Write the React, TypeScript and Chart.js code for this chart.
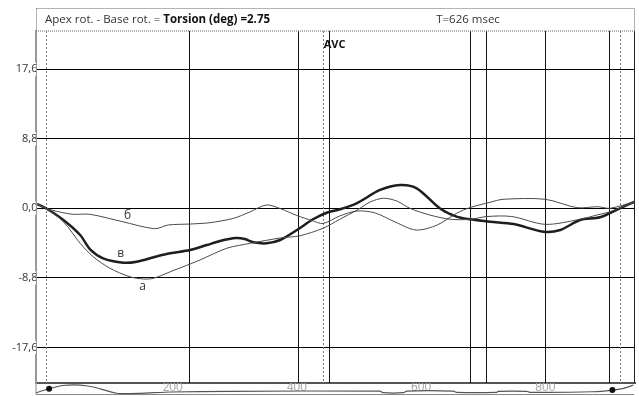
import React, { useEffect, useRef } from "react";
import { Chart, registerables } from "chart.js";

Chart.register(...registerables);

// ---- axes ----
const X_MIN = -20.1;
const X_MAX = 944.4;
const Y_MIN = -22.11;
const Y_MAX = 22.44;
const Y_TICKS = [-17.6, -8.8, 0, 8.8, 17.6];
const X_TICKS = [200, 400, 600, 800];
const STRIP_BOTTOM = -23.44;

// ---- curves (time ms, torsion deg) ----
const curveA_T = [-18, -4, 24, 51, 72, 99, 131, 153, 169, 196, 228, 244, 287, 325, 373, 405, 442, 469, 497, 518, 539, 561, 582, 614, 647, 679, 706, 746, 800, 856, 883, 904, 944];
const curveA_V = [0.54, 0, -1.7, -4.43, -6.13, -7.59, -8.66, -8.95, -8.86, -8.03, -7.05, -6.54, -5.06, -4.43, -3.76, -3.47, -2.53, -1.39, -0.22, 0.8, 1.27, 0.92, 0, -0.85, -1.39, -1.39, -1.04, -1.04, -2.03, -1.39, -0.85, -0.43, 0.84];

const curveB_T = [-18, -4, 18, 40, 67, 118, 171, 193, 228, 260, 298, 324, 351, 373, 400, 424, 442, 469, 497, 526, 558, 592, 626, 658, 679, 711, 732, 800, 851, 885, 904, 944];
const curveB_V = [0.54, 0, -0.47, -0.76, -0.76, -1.67, -2.58, -2.11, -1.99, -1.82, -1.27, -0.47, 0.42, -0.03, -0.91, -1.54, -1.92, -0.97, -0.34, -0.59, -1.73, -2.75, -2.11, -0.59, 0.1, 0.76, 1.14, 1.14, 0.08, 0.2, 0, 0.84];

const curveC_T = [-18, -4, 24, 51, 67, 88, 121, 142, 174, 196, 228, 255, 276, 302, 316, 330, 351, 373, 400, 426, 448, 469, 496, 534, 566, 593, 630, 657, 679, 711, 749, 797, 824, 856, 888, 920, 944];
const curveC_V = [0.54, 0, -1.48, -3.38, -5.19, -6.33, -6.89, -6.76, -6.1, -5.7, -5.28, -4.65, -4.14, -3.76, -3.89, -4.3, -4.43, -4.01, -2.75, -1.39, -0.56, -0.13, 0.63, 2.32, 2.95, 2.53, 0, -1.06, -1.39, -1.7, -1.99, -2.96, -2.75, -1.48, -1.14, 0, 0.84];

// ---- ECG strip ----
const ecg_T = [-20, 1, 23, 51, 72, 110, 147, 196, 292, 534, 539, 571, 577, 652, 657, 722, 724, 770, 775, 877, 908, 926, 942];
const ecg_V = [-23.34, -22.84, -22.43, -22.37, -22.62, -23.41, -23.42, -23.25, -23.16, -23.13, -23.34, -23.34, -23.13, -23.13, -23.29, -23.29, -23.16, -23.16, -23.29, -23.22, -23.01, -22.78, -22.37];
const ecgDot_T = [1, 908];
const ecgDot_V = [-22.84, -23.01];

// ---- event markers (ms) ----
const SOLID_MARKERS = [227, 401, 451, 678, 705, 800, 903];
const DOTTED_MARKERS = [-4, 441.5, 920];
const AVC_AT = 441.5;

// ---- texts ----
const HEADER_REGULAR = "Apex rot. - Base rot. = ";
const HEADER_BOLD = "Torsion (deg) =2.75";
const HEADER_RIGHT = "T=626 msec";
const CURVE_LABELS = [
  { text: "б", t: 127.5, v: -0.97 },
  { text: "в", t: 116.3, v: -5.78 },
  { text: "а", t: 151.7, v: -9.92 },
];

const FONT = '"Open Sans", "Noto Sans", sans-serif';

const pts = (t: number[], v: number[]) => t.map((x, i) => ({ x, y: v[i] }));

const decorPlugin = {
  id: "decor",
  beforeDatasetsDraw(chart: any) {
    const { ctx, chartArea, scales } = chart;
    const xs = scales.x;
    const ys = scales.y;
    ctx.save();
    const top = chartArea.top;
    const bottom = chartArea.bottom;
    // solid markers
    ctx.strokeStyle = "#111";
    ctx.lineWidth = 1;
    SOLID_MARKERS.forEach((m) => {
      const x = Math.round(xs.getPixelForValue(m)) + 0.5;
      ctx.beginPath();
      ctx.moveTo(x, top);
      ctx.lineTo(x, bottom);
      ctx.stroke();
    });
    // dotted markers
    ctx.strokeStyle = "#777";
    ctx.setLineDash([2, 2]);
    DOTTED_MARKERS.forEach((m) => {
      const x = Math.round(xs.getPixelForValue(m)) + 0.5;
      ctx.beginPath();
      ctx.moveTo(x, top);
      ctx.lineTo(x, bottom);
      ctx.stroke();
    });
    ctx.setLineDash([]);
    // strip box (bottom & sides)
    const sb = Math.round(ys.getPixelForValue(STRIP_BOTTOM)) + 0.5;
    ctx.strokeStyle = "#888";
    ctx.lineWidth = 1;
    ctx.beginPath();
    ctx.moveTo(chartArea.left, bottom);
    ctx.lineTo(chartArea.left, sb);
    ctx.lineTo(chartArea.right - 1, sb);
    ctx.stroke();
    // right border
    ctx.strokeStyle = "#222";
    ctx.beginPath();
    ctx.moveTo(chartArea.right - 0.5, top);
    ctx.lineTo(chartArea.right - 0.5, bottom);
    ctx.stroke();
    // header dotted box
    ctx.strokeStyle = "#666";
    ctx.setLineDash([1, 1]);
    ctx.strokeRect(chartArea.left + 0.5, 8.5, chartArea.right - chartArea.left - 1, top - 8.5);
    ctx.setLineDash([]);
    ctx.restore();
  },
  afterDatasetsDraw(chart: any) {
    const { ctx, chartArea, scales } = chart;
    const xs = scales.x;
    const ys = scales.y;
    ctx.save();
    // ECG dots (outside chart area, so drawn here)
    ctx.fillStyle = "#111";
    ecgDot_T.forEach((t, i) => {
      ctx.beginPath();
      ctx.arc(xs.getPixelForValue(t), ys.getPixelForValue(ecgDot_V[i]), 3, 0, Math.PI * 2);
      ctx.fill();
    });
    ctx.fillStyle = "#333";
    ctx.textBaseline = "middle";
    ctx.textAlign = "left";
    ctx.font = `11.5px ${FONT}`;
    const hx = chartArea.left + 9;
    const hy = 20;
    ctx.fillText(HEADER_REGULAR, hx, hy);
    const w = ctx.measureText(HEADER_REGULAR).width;
    ctx.font = `bold 11.5px ${FONT}`;
    ctx.fillStyle = "#111";
    ctx.fillText(HEADER_BOLD, hx + w, hy);
    ctx.font = `11.5px ${FONT}`;
    ctx.fillStyle = "#333";
    ctx.textAlign = "center";
    ctx.fillText(HEADER_RIGHT, 468, hy);
    // AVC
    ctx.textAlign = "left";
    ctx.font = `bold 11px ${FONT}`;
    ctx.fillStyle = "#111";
    ctx.fillText("AVC", xs.getPixelForValue(AVC_AT) + 1, 45);
    // curve labels
    ctx.font = `12px ${FONT}`;
    ctx.fillStyle = "#333";
    ctx.textAlign = "center";
    CURVE_LABELS.forEach((l) => {
      ctx.fillText(l.text, xs.getPixelForValue(l.t), ys.getPixelForValue(l.v));
    });
    ctx.restore();
  },
};

export default function App() {
  const ref = useRef<HTMLCanvasElement | null>(null);
  useEffect(() => {
    if (!ref.current) return;
    const chart = new Chart(ref.current, {
      type: "line",
      data: {
        datasets: [
          { data: pts(curveB_T, curveB_V), borderColor: "#4a4a4a", borderWidth: 1, pointRadius: 0, tension: 0.3 },
          { data: pts(curveA_T, curveA_V), borderColor: "#4a4a4a", borderWidth: 1, pointRadius: 0, tension: 0.3 },
          { data: pts(curveC_T, curveC_V), borderColor: "#1e1e1e", borderWidth: 2.5, pointRadius: 0, tension: 0.3 },
          { data: pts(ecg_T, ecg_V), borderColor: "#555", borderWidth: 1.2, pointRadius: 0, tension: 0.2, clip: false },
        ],
      },
      options: {
        animation: false,
        responsive: true,
        maintainAspectRatio: false,
        layout: { padding: { left: 0, right: 4, top: 31, bottom: 0 } },
        plugins: { legend: { display: false }, tooltip: { enabled: false } },
        scales: {
          x: {
            type: "linear",
            min: X_MIN,
            max: X_MAX,
            position: "bottom",
            grid: { display: false, drawTicks: false },
            border: { display: true, color: "#555", width: 2 },
            afterBuildTicks: (s: any) => {
              s.ticks = X_TICKS.map((v) => ({ value: v }));
            },
            afterFit: (s: any) => {
              s.height = 13;
            },
            ticks: {
              display: true,
              color: "#a8a8a8",
              font: { family: '"Liberation Sans Narrow", "Liberation Sans", sans-serif', size: 12, lineHeight: 1 },
              padding: -1,
              maxRotation: 0,
              minRotation: 0,
              autoSkip: false,
              callback: (v: any) => String(v),
            },
          },
          y: {
            type: "linear",
            min: Y_MIN,
            max: Y_MAX,
            afterBuildTicks: (s: any) => {
              s.ticks = Y_TICKS.map((v) => ({ value: v }));
            },
            afterFit: (s: any) => {
              s.width = 36;
            },
            grid: { color: "#000", lineWidth: 1, drawTicks: false },
            border: { display: true, color: "#999", width: 2 },
            ticks: {
              color: "#333",
              font: { family: FONT, size: 11 },
              padding: -1.5,
              autoSkip: false,
              showLabelBackdrop: true,
              backdropColor: "#fff",
              backdropPadding: { top: 0, bottom: 0, left: 0, right: 0 },
              callback: (v: any) => Number(v).toFixed(1).replace(".", ","),
            },
          },
        },
      },
      plugins: [decorPlugin],
    } as any);
    return () => chart.destroy();
  }, []);
  return (
    <div style={{ position: "fixed", left: 0, top: 0, width: 639, height: 396, background: "#fff" }}>
      <canvas ref={ref} />
    </div>
  );
}
